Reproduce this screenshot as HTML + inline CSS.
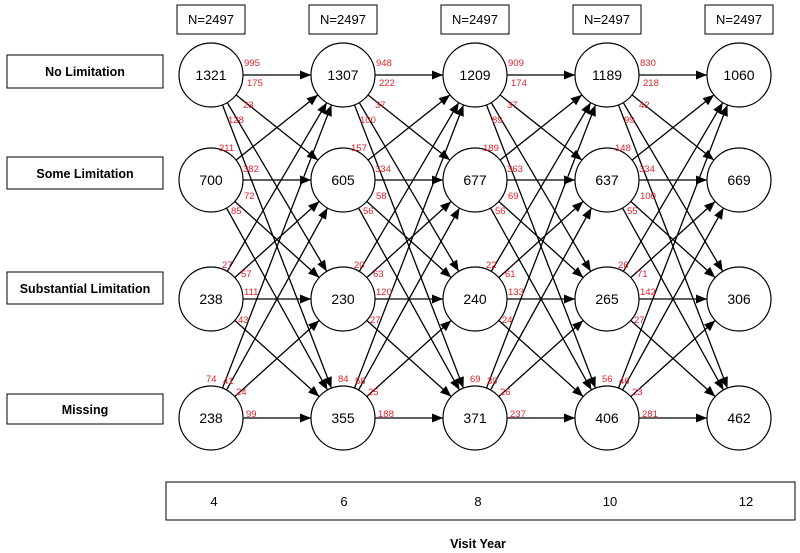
<!DOCTYPE html>
<html><head><meta charset="utf-8"><style>
html,body{margin:0;padding:0;background:#fff;}
svg{display:block;font-family:"Liberation Sans",Arial,sans-serif;}
.lb{font-weight:bold;font-size:12.5px;}
.n{font-size:14px;}
.r{fill:#e8202a;font-size:9.5px;}
</style></head><body>
<svg width="800" height="553" viewBox="0 0 800 553" xmlns="http://www.w3.org/2000/svg">
<defs>
<marker id="a" markerUnits="userSpaceOnUse" markerWidth="12" markerHeight="10" refX="32" refY="0" orient="auto" overflow="visible" viewBox="-12 -5 12 10">
<path d="M0,0 L-11,-4.5 L-11,4.5 Z" fill="#000"/>
</marker>
</defs>
<g fill="#fff" stroke="#000" stroke-width="1">
<rect x="7" y="55" width="156" height="33"/>
<rect x="7" y="157" width="156" height="32"/>
<rect x="7" y="272" width="156" height="32"/>
<rect x="7" y="394" width="156" height="30"/>
<rect x="177" y="5" width="68" height="29"/>
<rect x="309" y="5" width="68" height="29"/>
<rect x="441" y="5" width="68" height="29"/>
<rect x="573" y="5" width="68" height="29"/>
<rect x="705" y="5" width="68" height="29"/>
<rect x="166" y="482" width="629" height="38"/>
</g>
<g class="lb" text-anchor="middle">
<text x="85" y="76">No Limitation</text>
<text x="85" y="178">Some Limitation</text>
<text x="85" y="293">Substantial Limitation</text>
<text x="85" y="414">Missing</text>
<text x="478" y="548">Visit Year</text>
</g>
<g font-size="13" text-anchor="middle">
<text x="211" y="24">N=2497</text><text x="343" y="24">N=2497</text><text x="475" y="24">N=2497</text><text x="607" y="24">N=2497</text><text x="739" y="24">N=2497</text>
<text x="214" y="506">4</text><text x="344" y="506">6</text><text x="478" y="506">8</text><text x="610" y="506">10</text><text x="746" y="506">12</text>
</g>
<g stroke="#000" stroke-width="1.3" marker-end="url(#a)">
<line x1="211" y1="75" x2="343" y2="75"/><line x1="211" y1="75" x2="343" y2="180"/><line x1="211" y1="75" x2="343" y2="299"/><line x1="211" y1="75" x2="343" y2="418"/>
<line x1="211" y1="180" x2="343" y2="75"/><line x1="211" y1="180" x2="343" y2="180"/><line x1="211" y1="180" x2="343" y2="299"/><line x1="211" y1="180" x2="343" y2="418"/>
<line x1="211" y1="299" x2="343" y2="75"/><line x1="211" y1="299" x2="343" y2="180"/><line x1="211" y1="299" x2="343" y2="299"/><line x1="211" y1="299" x2="343" y2="418"/>
<line x1="211" y1="418" x2="343" y2="75"/><line x1="211" y1="418" x2="343" y2="180"/><line x1="211" y1="418" x2="343" y2="299"/><line x1="211" y1="418" x2="343" y2="418"/>
<line x1="343" y1="75" x2="475" y2="75"/><line x1="343" y1="75" x2="475" y2="180"/><line x1="343" y1="75" x2="475" y2="299"/><line x1="343" y1="75" x2="475" y2="418"/>
<line x1="343" y1="180" x2="475" y2="75"/><line x1="343" y1="180" x2="475" y2="180"/><line x1="343" y1="180" x2="475" y2="299"/><line x1="343" y1="180" x2="475" y2="418"/>
<line x1="343" y1="299" x2="475" y2="75"/><line x1="343" y1="299" x2="475" y2="180"/><line x1="343" y1="299" x2="475" y2="299"/><line x1="343" y1="299" x2="475" y2="418"/>
<line x1="343" y1="418" x2="475" y2="75"/><line x1="343" y1="418" x2="475" y2="180"/><line x1="343" y1="418" x2="475" y2="299"/><line x1="343" y1="418" x2="475" y2="418"/>
<line x1="475" y1="75" x2="607" y2="75"/><line x1="475" y1="75" x2="607" y2="180"/><line x1="475" y1="75" x2="607" y2="299"/><line x1="475" y1="75" x2="607" y2="418"/>
<line x1="475" y1="180" x2="607" y2="75"/><line x1="475" y1="180" x2="607" y2="180"/><line x1="475" y1="180" x2="607" y2="299"/><line x1="475" y1="180" x2="607" y2="418"/>
<line x1="475" y1="299" x2="607" y2="75"/><line x1="475" y1="299" x2="607" y2="180"/><line x1="475" y1="299" x2="607" y2="299"/><line x1="475" y1="299" x2="607" y2="418"/>
<line x1="475" y1="418" x2="607" y2="75"/><line x1="475" y1="418" x2="607" y2="180"/><line x1="475" y1="418" x2="607" y2="299"/><line x1="475" y1="418" x2="607" y2="418"/>
<line x1="607" y1="75" x2="739" y2="75"/><line x1="607" y1="75" x2="739" y2="180"/><line x1="607" y1="75" x2="739" y2="299"/><line x1="607" y1="75" x2="739" y2="418"/>
<line x1="607" y1="180" x2="739" y2="75"/><line x1="607" y1="180" x2="739" y2="180"/><line x1="607" y1="180" x2="739" y2="299"/><line x1="607" y1="180" x2="739" y2="418"/>
<line x1="607" y1="299" x2="739" y2="75"/><line x1="607" y1="299" x2="739" y2="180"/><line x1="607" y1="299" x2="739" y2="299"/><line x1="607" y1="299" x2="739" y2="418"/>
<line x1="607" y1="418" x2="739" y2="75"/><line x1="607" y1="418" x2="739" y2="180"/><line x1="607" y1="418" x2="739" y2="299"/><line x1="607" y1="418" x2="739" y2="418"/>
</g>
<g fill="#fff" stroke="#000" stroke-width="1.2">
<circle cx="211" cy="75" r="32"/><circle cx="211" cy="180" r="32"/><circle cx="211" cy="299" r="32"/><circle cx="211" cy="418" r="32"/>
<circle cx="343" cy="75" r="32"/><circle cx="343" cy="180" r="32"/><circle cx="343" cy="299" r="32"/><circle cx="343" cy="418" r="32"/>
<circle cx="475" cy="75" r="32"/><circle cx="475" cy="180" r="32"/><circle cx="475" cy="299" r="32"/><circle cx="475" cy="418" r="32"/>
<circle cx="607" cy="75" r="32"/><circle cx="607" cy="180" r="32"/><circle cx="607" cy="299" r="32"/><circle cx="607" cy="418" r="32"/>
<circle cx="739" cy="75" r="32"/><circle cx="739" cy="180" r="32"/><circle cx="739" cy="299" r="32"/><circle cx="739" cy="418" r="32"/>
</g>
<g class="n" text-anchor="middle">
<text x="211" y="80">1321</text><text x="211" y="185">700</text><text x="211" y="304">238</text><text x="211" y="423">238</text>
<text x="343" y="80">1307</text><text x="343" y="185">605</text><text x="343" y="304">230</text><text x="343" y="423">355</text>
<text x="475" y="80">1209</text><text x="475" y="185">677</text><text x="475" y="304">240</text><text x="475" y="423">371</text>
<text x="607" y="80">1189</text><text x="607" y="185">637</text><text x="607" y="304">265</text><text x="607" y="423">406</text>
<text x="739" y="80">1060</text><text x="739" y="185">669</text><text x="739" y="304">306</text><text x="739" y="423">462</text>
</g>
<g class="r">
<text x="244" y="66">995</text><text x="247" y="86">175</text><text x="243" y="108">23</text><text x="228" y="123">128</text>
<text x="219" y="151">211</text><text x="243" y="172">382</text><text x="244" y="199">72</text><text x="231" y="214">85</text>
<text x="222" y="268">27</text><text x="241" y="277">57</text><text x="244" y="295">111</text><text x="238" y="323">43</text>
<text x="206" y="382">74</text><text x="223" y="384">41</text><text x="236" y="395">24</text><text x="246" y="417">99</text>

<text x="376" y="66">948</text><text x="379" y="86">222</text><text x="375" y="108">37</text><text x="360" y="123">100</text>
<text x="351" y="151">157</text><text x="375" y="172">334</text><text x="376" y="199">58</text><text x="363" y="214">56</text>
<text x="354" y="268">20</text><text x="373" y="277">63</text><text x="376" y="295">120</text><text x="370" y="323">27</text>
<text x="338" y="382">84</text><text x="355" y="384">58</text><text x="368" y="395">25</text><text x="378" y="417">188</text>

<text x="508" y="66">909</text><text x="511" y="86">174</text><text x="507" y="108">37</text><text x="492" y="123">89</text>
<text x="483" y="151">189</text><text x="507" y="172">363</text><text x="508" y="199">69</text><text x="495" y="214">56</text>
<text x="486" y="268">22</text><text x="505" y="277">61</text><text x="508" y="295">133</text><text x="502" y="323">24</text>
<text x="470" y="382">69</text><text x="487" y="384">39</text><text x="500" y="395">26</text><text x="510" y="417">237</text>

<text x="640" y="66">830</text><text x="643" y="86">218</text><text x="639" y="108">42</text><text x="624" y="123">99</text>
<text x="615" y="151">148</text><text x="639" y="172">334</text><text x="640" y="199">100</text><text x="627" y="214">55</text>
<text x="618" y="268">26</text><text x="637" y="277">71</text><text x="640" y="295">142</text><text x="634" y="323">27</text>
<text x="602" y="382">56</text><text x="619" y="384">46</text><text x="632" y="395">23</text><text x="642" y="417">281</text>
</g>
</svg>
</body></html>
